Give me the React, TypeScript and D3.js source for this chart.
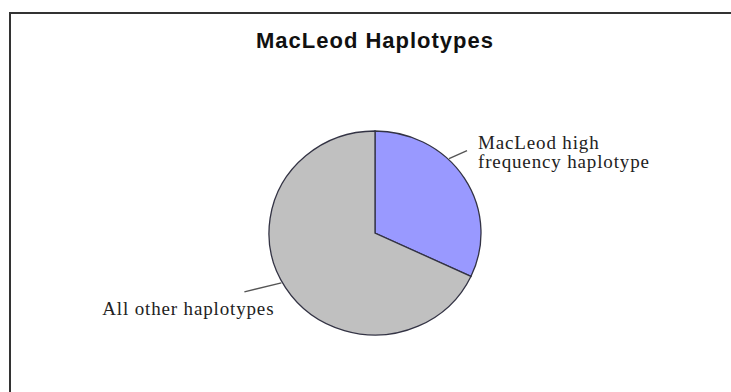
import React from "react";
import * as d3 from "d3";

const title = "MacLeod Haplotypes";
const categories = ["MacLeod high frequency haplotype", "All other haplotypes"];
const values = [32, 68];
const labelLines = [["MacLeod high", "frequency haplotype"], ["All other haplotypes"]];
const colors = ["#9999FF", "#C0C0C0"];

const W = 731;
const H = 392;
const cx = 375;
const cy = 233;
const rx = 106;
const ry = 102;

// label layout: where along the slice the leader starts, leader vector, text offset
const labelStyle = [
  { frac: 0.38, ldx: 18, ldy: -8, tdx: 11, tdy: -2, anchor: "start" },
  { frac: 0.514, ldx: -37, ldy: 9, tdx: 30, tdy: 23, anchor: "end" },
];

export default function App() {
  const pie = d3.pie<number>().sort(null).value((d) => d);
  const arcs = pie(values);
  const arc = d3.arc<d3.PieArcDatum<number>>().innerRadius(0).outerRadius(rx);
  const sy = ry / rx;

  const pt = (a: number) => [cx + (rx + 1) * Math.sin(a), cy - (ry + 1) * Math.cos(a)];

  return (
    <svg
      width={W}
      height={H}
      style={{ position: "absolute", left: 0, top: 0, background: "#fff" }}
    >
      <rect x={10} y={13} width={W + 20} height={H + 20} fill="#fff" stroke="#333" strokeWidth={2} />
      <text
        x={cx}
        y={48}
        textAnchor="middle"
        fontFamily="Liberation Sans, Arial, sans-serif"
        fontWeight="bold"
        fontSize={22}
        letterSpacing={1}
        fill="#111"
      >
        {title}
      </text>
      <g transform={`translate(${cx},${cy}) scale(1,${sy})`}>
        {arcs.map((a, i) => (
          <path
            key={categories[i]}
            d={arc(a) || ""}
            fill={colors[i]}
            stroke="#333344"
            strokeWidth={1.3}
            vectorEffect="non-scaling-stroke"
          />
        ))}
      </g>
      {arcs.map((a, i) => {
        const s = labelStyle[i];
        const ang = a.startAngle + s.frac * (a.endAngle - a.startAngle);
        const [x0, y0] = pt(ang);
        const x1 = x0 + s.ldx;
        const y1 = y0 + s.ldy;
        return (
          <g key={"l" + i}>
            <line x1={x0} y1={y0} x2={x1} y2={y1} stroke="#555" strokeWidth={1.5} />
            <text
              x={x1 + s.tdx}
              y={y1 + s.tdy}
              textAnchor={s.anchor as any}
              fontFamily="Liberation Serif, Times New Roman, serif"
              fontSize={19}
              letterSpacing={0.85}
              fill="#222"
            >
              {labelLines[i].map((t, j) => (
                <tspan key={j} x={x1 + s.tdx} dy={j === 0 ? 0 : 19}>
                  {t}
                </tspan>
              ))}
            </text>
          </g>
        );
      })}
    </svg>
  );
}
